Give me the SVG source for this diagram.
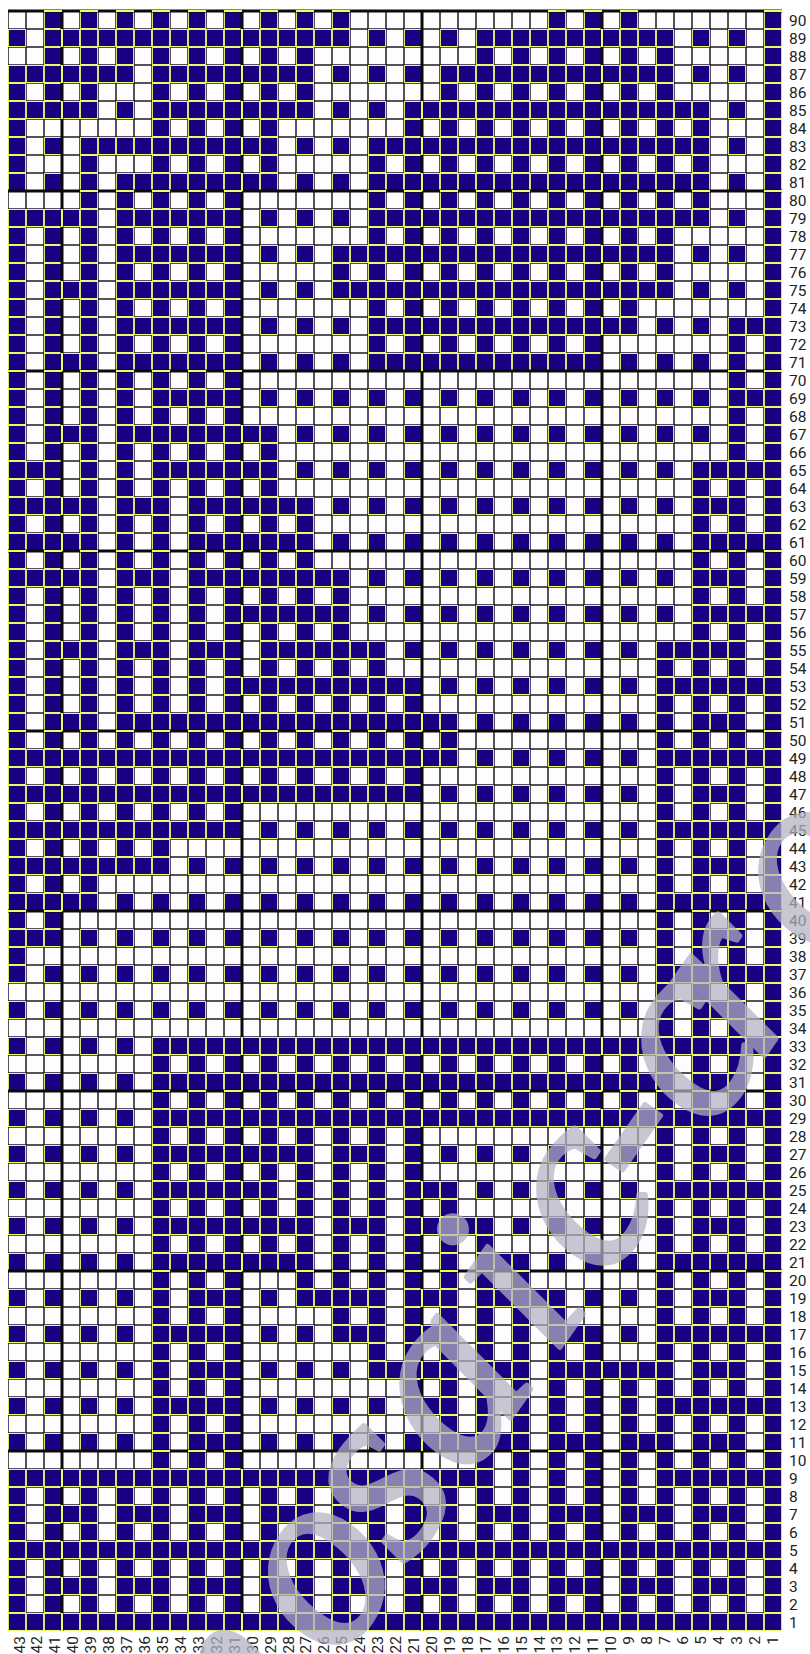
<svg xmlns="http://www.w3.org/2000/svg" width="810" height="1654" viewBox="0 0 810 1654">
<style>
.r{fill:none;stroke:url(#nav);stroke-width:18}
.t{fill:none;stroke:#0a0a0a;stroke-width:3}
.y{fill:none;stroke:#e6ff66;stroke-width:2}
.l{font-family:Roboto,"Liberation Sans",sans-serif;font-size:15.5px;fill:#222}
.b{font-family:Roboto,"Liberation Sans",sans-serif;font-size:15.5px;fill:#222;text-anchor:end}
.w{font-family:"Liberation Serif",serif;font-style:italic;font-size:255px;fill:rgb(178,178,195);stroke:rgb(178,178,195);stroke-width:5;stroke-linejoin:round;opacity:.72}
</style>
<defs>
<pattern id="wht" patternUnits="userSpaceOnUse" x="8" y="11" width="18" height="18">
<rect width="18" height="18" fill="#fefcff"/>
<path d="M0 0H18V18H0Z" fill="none" stroke="#1c1c1c" stroke-width="1.5"/>
</pattern>
<pattern id="nav" patternUnits="userSpaceOnUse" x="8" y="11" width="18" height="18">
<rect width="18" height="18" fill="#1a0082"/>
<path d="M0 0H18V18H0Z" fill="none" stroke="#e6ff66" stroke-width="1.8"/>
</pattern>
</defs>
<rect width="810" height="1654" fill="#fff"/>
<rect id="grid" x="8" y="11" width="774" height="1620" fill="url(#wht)"/>
<g id="cells">
<path class="r" pathLength="43" d="M8 20H782" stroke-dasharray="0 2  1 1 1 1 1 1 1 1  1 1 1 1 1 1 1 1  1 11  1 1 1 1  1 7  1"/>
<path class="r" pathLength="43" d="M8 38H782" stroke-dasharray="1 1  17 1  1 1 1 1 1 1  11 1  1 1 1 1  1"/>
<path class="r" pathLength="43" d="M8 56H782" stroke-dasharray="0 2  1 1 1 1 1 1 1 1  1 1 1 1 1 1  1 9  1 1 1 1 1 1 1 1 1 1  1 5  1"/>
<path class="r" pathLength="43" d="M8 74H782" stroke-dasharray="7 1  9 1  1 1 1 1 1 1  13 1  1 1 1 1  1"/>
<path class="r" pathLength="43" d="M8 92H782" stroke-dasharray="1 1 1 1  1 3  1 1 1 1 1 1 1 1  1 7  1 1 1 1 1 1 1 1 1 1 1 1  1 5  1"/>
<path class="r" pathLength="43" d="M8 110H782" stroke-dasharray="5 1  1 1  9 1  1 1 1 1  17 1  1 1 1 1"/>
<path class="r" pathLength="43" d="M8 128H782" stroke-dasharray="1 7  1 1 1 1 1 1  1 7  1 1 1 1 1 1 1 1  1 1 1 1 1 1 1 1  1 3  1"/>
<path class="r" pathLength="43" d="M8 146H782" stroke-dasharray="1 1 1 1  11 1  1 1 1 1  19 1  1 1 1 1"/>
<path class="r" pathLength="43" d="M8 164H782" stroke-dasharray="1 3  1 3  1 1 1 1 1 1  1 5  1 1 1 1 1 1 1 1 1 1  1 1 1 1 1 1 1 1  1 3  1"/>
<path class="r" pathLength="43" d="M8 182H782" stroke-dasharray="1 1 1 1 1 1  9 1  1 1 1 1  19 1  1 1 1 1"/>
<path class="r" pathLength="43" d="M8 200H782" stroke-dasharray="0 4  1 1 1 1 1 1 1 1  1 7  1 1 1 1 1 1 1 1 1 1  1 1 1 1 1 1 1 1  1 3  1"/>
<path class="r" pathLength="43" d="M8 218H782" stroke-dasharray="5 1  7 1  1 1 1 1 1 1  19 1  1 1 1 1"/>
<path class="r" pathLength="43" d="M8 236H782" stroke-dasharray="1 1 1 1 1 1  1 1 1 1 1 1  1 7  1 1 1 1 1 1 1 1  1 1 1 1 1 1 1 1  1 5  1"/>
<path class="r" pathLength="43" d="M8 254H782" stroke-dasharray="1 1 1 1 1 1  7 1  1 1 1 1  19 1  1 1 1 1  1"/>
<path class="r" pathLength="43" d="M8 272H782" stroke-dasharray="1 1 1 1 1 1  1 1 1 1 1 1  1 5  1 1 1 1 1 1 1 1 1 1  1 1 1 1 1 1 1 1  1 5  1"/>
<path class="r" pathLength="43" d="M8 290H782" stroke-dasharray="1 1  3 1  7 1  1 1 1 1  19 1  1 1 1 1  1"/>
<path class="r" pathLength="43" d="M8 308H782" stroke-dasharray="1 1 1 1 1 1  1 1 1 1 1 1  1 7  1 1 1 1 1 1 1 1  1 1 1 1 1 1  1 7  1"/>
<path class="r" pathLength="43" d="M8 326H782" stroke-dasharray="1 1 1 1 1 1  7 1  1 1 1 1 1 1  15 1  1 1 1 1  3"/>
<path class="r" pathLength="43" d="M8 344H782" stroke-dasharray="1 1 1 1 1 1  1 1 1 1 1 1  1 7  1 1 1 1 1 1  1 1 1 1 1 1  1 7  1 1 1"/>
<path class="r" pathLength="43" d="M8 362H782" stroke-dasharray="1 1  3 1  7 1  1 1 1 1 1 1  13 1  1 1 1 1 1 1 1 1  1"/>
<path class="r" pathLength="43" d="M8 380H782" stroke-dasharray="1 1 1 1 1 1  1 1 1 1 1 1  1 27  1 1 1"/>
<path class="r" pathLength="43" d="M8 398H782" stroke-dasharray="1 1 1 1 1 1 1 1  5 1  1 1 1 1 1 1 1 1 1 1  1 1 1 1 1 1 1 1 1 1  1 1 1 1 1 1  3"/>
<path class="r" pathLength="43" d="M8 416H782" stroke-dasharray="1 1 1 1 1 1  1 1 1 1 1 1  1 27  1 1 1"/>
<path class="r" pathLength="43" d="M8 434H782" stroke-dasharray="1 1  3 1  9 1  1 1 1 1 1 1 1 1 1 1  1 1 1 1 1 1 1 1 1 1  1 1 1 1 1 1  1"/>
<path class="r" pathLength="43" d="M8 452H782" stroke-dasharray="1 1 1 1 1 1 1 1  1 1 1 1 1 1  1 25  1 1 1"/>
<path class="r" pathLength="43" d="M8 470H782" stroke-dasharray="3 1  1 1 1 1  7 1  1 1 1 1 1 1 1 1 1 1  1 1 1 1 1 1 1 1 1 1  1 1  5"/>
<path class="r" pathLength="43" d="M8 488H782" stroke-dasharray="1 1 1 1 1 1 1 1  1 1 1 1 1 1  1 23  1 1 1 1  1"/>
<path class="r" pathLength="43" d="M8 506H782" stroke-dasharray="5 1  3 1  7 1  1 1 1 1 1 1 1 1 1 1  1 1 1 1 1 1 1 1 1 1  3 1  1"/>
<path class="r" pathLength="43" d="M8 524H782" stroke-dasharray="1 1 1 1 1 1 1 1  1 1 1 1 1 1 1 1  1 21  1 1 1 1  1"/>
<path class="r" pathLength="43" d="M8 542H782" stroke-dasharray="5 1  1 1 1 1  7 1  1 1 1 1 1 1 1 1 1 1  1 1 1 1 1 1 1 1 1 1  5"/>
<path class="r" pathLength="43" d="M8 560H782" stroke-dasharray="1 1 1 1 1 1 1 1  1 1 1 1 1 1 1 1  1 21  1 1 1 1  1"/>
<path class="r" pathLength="43" d="M8 578H782" stroke-dasharray="5 1  3 1  9 1  1 1 1 1 1 1 1 1 1 1  1 1 1 1 1 1 1 1  3 1  1"/>
<path class="r" pathLength="43" d="M8 596H782" stroke-dasharray="1 1 1 1 1 1 1 1 1 1  1 1 1 1 1 1 1 1  1 19  1 1 1 1  1"/>
<path class="r" pathLength="43" d="M8 614H782" stroke-dasharray="1 1 1 1 1 1  1 1 1 1 1 1  7 1  1 1 1 1 1 1 1 1 1 1  1 1 1 1 1 1 1 1  5"/>
<path class="r" pathLength="43" d="M8 632H782" stroke-dasharray="1 1 1 1 1 1 1 1 1 1  1 1 1 1 1 1 1 1  1 19  1 1 1 1  1"/>
<path class="r" pathLength="43" d="M8 650H782" stroke-dasharray="1 1  3 1  3 1  3 1  7 1  1 1 1 1 1 1 1 1 1 1  1 1 1 1  5 1  1"/>
<path class="r" pathLength="43" d="M8 668H782" stroke-dasharray="1 1 1 1 1 1 1 1 1 1  1 1 1 1 1 1 1 1 1 1  1 15  1 1 1 1 1 1  1"/>
<path class="r" pathLength="43" d="M8 686H782" stroke-dasharray="1 1 1 1 1 1  1 1 1 1 1 1  11 1  1 1 1 1 1 1  1 1 1 1 1 1  7"/>
<path class="r" pathLength="43" d="M8 704H782" stroke-dasharray="1 1 1 1 1 1 1 1 1 1  1 1 1 1 1 1 1 1 1 1  1 1  1 13  1 1 1 1 1 1  1"/>
<path class="r" pathLength="43" d="M8 722H782" stroke-dasharray="1 1  3 1  19 1  1 1 1 1 1 1  1 1 1 1 1 1  3 1  1"/>
<path class="r" pathLength="43" d="M8 740H782" stroke-dasharray="1 1 1 1 1 1 1 1 1 1  1 1 1 1 1 1 1 1 1 1  1 1 1 1  1 11  1 1 1 1 1 1  1"/>
<path class="r" pathLength="43" d="M8 758H782" stroke-dasharray="25 1  1 1 1 1 1 1 1 1 1 1  7"/>
<path class="r" pathLength="43" d="M8 776H782" stroke-dasharray="1 1 1 1 1 1 1 1 1 1  1 1 1 1 1 1 1 1 1 1  1 1  1 13  1 1 1 1 1 1  1"/>
<path class="r" pathLength="43" d="M8 794H782" stroke-dasharray="23 1  1 1 1 1 1 1 1 1 1 1  1 1 1 1  3 1  1"/>
<path class="r" pathLength="43" d="M8 812H782" stroke-dasharray="1 1 1 1 1 1  1 1 1 1 1 1  1 23  1 1 1 1 1 1  1"/>
<path class="r" pathLength="43" d="M8 830H782" stroke-dasharray="13 1  1 1 1 1 1 1 1 1 1 1  1 1 1 1 1 1 1 1 1 1  1 1  7"/>
<path class="r" pathLength="43" d="M8 848H782" stroke-dasharray="1 1 1 1 1 1 1 1  1 27  1 1 1 1 1 1  1"/>
<path class="r" pathLength="43" d="M8 866H782" stroke-dasharray="9 1  1 1 1 1 1 1 1 1 1 1  1 1 1 1 1 1 1 1 1 1  1 1 1 1 1 1 1 1  3 1  1"/>
<path class="r" pathLength="43" d="M8 884H782" stroke-dasharray="1 1 1 1  1 31  1 1 1 1 1 1  1"/>
<path class="r" pathLength="43" d="M8 902H782" stroke-dasharray="5 1  1 1 1 1 1 1 1 1 1 1  1 1 1 1 1 1 1 1 1 1  1 1 1 1 1 1 1 1 1 1  7"/>
<path class="r" pathLength="43" d="M8 920H782" stroke-dasharray="1 1  1 33  1 1 1 1 1 1  1"/>
<path class="r" pathLength="43" d="M8 938H782" stroke-dasharray="3 1  1 1 1 1 1 1 1 1 1 1  1 1 1 1 1 1 1 1 1 1  1 1 1 1 1 1 1 1 1 1  1 1 1 1  3 1  1"/>
<path class="r" pathLength="43" d="M8 956H782" stroke-dasharray="1 35  1 1 1 1 1 1  1"/>
<path class="r" pathLength="43" d="M8 974H782" stroke-dasharray="1 1 1 1 1 1 1 1 1 1  1 1 1 1 1 1 1 1 1 1  1 1 1 1 1 1 1 1 1 1  1 1 1 1 1 1  7"/>
<path class="r" pathLength="43" d="M8 992H782" stroke-dasharray="0 36  1 1 1 1 1 1  1"/>
<path class="r" pathLength="43" d="M8 1010H782" stroke-dasharray="1 1 1 1 1 1 1 1 1 1  1 1 1 1 1 1 1 1 1 1  1 1 1 1 1 1 1 1 1 1  1 1 1 1 1 1 1 1  3 1  1"/>
<path class="r" pathLength="43" d="M8 1028H782" stroke-dasharray="0 36  1 1 1 1 1 1  1"/>
<path class="r" pathLength="43" d="M8 1046H782" stroke-dasharray="1 1 1 1 1 1 1 1  35"/>
<path class="r" pathLength="43" d="M8 1064H782" stroke-dasharray="0 8  1 1 1 1 1 1 1 1 1 1  1 1 1 1 1 1 1 1 1 1  1 1 1 1 1 1 1 1 1 1  1 1 1 1  1"/>
<path class="r" pathLength="43" d="M8 1082H782" stroke-dasharray="1 1 1 1 1 1 1 1  29 1  3 1  1"/>
<path class="r" pathLength="43" d="M8 1100H782" stroke-dasharray="0 8  1 1 1 1 1 1 1 1 1 1  1 1 1 1 1 1 1 1 1 1  1 1 1 1 1 1 1 1 1 1  1 1 1 1  1"/>
<path class="r" pathLength="43" d="M8 1118H782" stroke-dasharray="1 1 1 1 1 1 1 1  35"/>
<path class="r" pathLength="43" d="M8 1136H782" stroke-dasharray="0 8  1 1 1 1 1 1 1 1 1 1  1 1 1 1  1 13  1 1 1 1 1 1  1"/>
<path class="r" pathLength="43" d="M8 1154H782" stroke-dasharray="1 1 1 1 1 1 1 1  9 1  3 1  1 1 1 1 1 1 1 1  1 1 1 1 1 1 1 1  3 1  1"/>
<path class="r" pathLength="43" d="M8 1172H782" stroke-dasharray="0 8  1 1 1 1 1 1 1 1 1 1  1 1 1 1  1 13  1 1 1 1 1 1  1"/>
<path class="r" pathLength="43" d="M8 1190H782" stroke-dasharray="1 1 1 1 1 1 1 1  7 1  1 1 1 1 1 1  3 1  1 1 1 1 1 1 1 1 1 1  7"/>
<path class="r" pathLength="43" d="M8 1208H782" stroke-dasharray="0 8  1 1 1 1 1 1 1 1 1 1  1 1 1 1 1 1  1 11  1 1 1 1 1 1  1"/>
<path class="r" pathLength="43" d="M8 1226H782" stroke-dasharray="1 1 1 1 1 1 1 1  9 1  3 1  5 1  1 1 1 1 1 1 1 1 1 1  3 1  1"/>
<path class="r" pathLength="43" d="M8 1244H782" stroke-dasharray="0 8  1 1 1 1 1 1 1 1 1 1  1 1 1 1 1 1 1 1  1 9  1 1 1 1 1 1  1"/>
<path class="r" pathLength="43" d="M8 1262H782" stroke-dasharray="1 1 1 1 1 1 1 1  9 1  1 1 1 1 1 1 1 1  3 1  1 1 1 1 1 1  7"/>
<path class="r" pathLength="43" d="M8 1280H782" stroke-dasharray="0 8  1 1 1 1  1 3  1 1 1 1 1 1 1 1 1 1 1 1  1 7  1 1 1 1 1 1  1"/>
<path class="r" pathLength="43" d="M8 1298H782" stroke-dasharray="1 1 1 1 1 1 1 1 1 1  3 1  1 1  5 1  3 1  5 1  1 1  1 1 1 1  3 1  1"/>
<path class="r" pathLength="43" d="M8 1316H782" stroke-dasharray="0 8  1 1 1 1  1 5  1 1 1 1 1 1 1 1 1 1 1 1  1 5  1 1 1 1 1 1  1"/>
<path class="r" pathLength="43" d="M8 1334H782" stroke-dasharray="1 1 1 1 1 1 1 1  5 1  1 1 1 1  3 1  3 1  1 1 1 1  3 1  1 1  7"/>
<path class="r" pathLength="43" d="M8 1352H782" stroke-dasharray="0 8  1 1 1 1  1 7  1 1 1 1 1 1 1 1 1 1 1 1  1 3  1 1 1 1 1 1  1"/>
<path class="r" pathLength="43" d="M8 1370H782" stroke-dasharray="1 1 1 1 1 1 1 1 1 1  3 1  1 1 1 1 1 1  5 1  3 1  7 1  3 1  1"/>
<path class="r" pathLength="43" d="M8 1388H782" stroke-dasharray="0 8  1 1 1 1  1 9  1 1 1 1 1 1 1 1 1 1  1 1 1 1 1 1 1 1 1 1  1"/>
<path class="r" pathLength="43" d="M8 1406H782" stroke-dasharray="1 1 1 1 1 1 1 1  5 1  1 1 1 1 1 1 1 1  3 1  1 1 1 1 1 1 1 1 1 1  7"/>
<path class="r" pathLength="43" d="M8 1424H782" stroke-dasharray="0 8  1 1 1 1  1 11  1 1 1 1 1 1 1 1 1 1  1 1 1 1 1 1 1 1  1"/>
<path class="r" pathLength="43" d="M8 1442H782" stroke-dasharray="1 1 1 1 1 1 1 1 1 1  3 1  1 1 1 1 1 1 1 1  7 1  3 1  3 1  3 1  1"/>
<path class="r" pathLength="43" d="M8 1460H782" stroke-dasharray="0 8  1 1 1 1  1 13  1 1 1 1 1 1 1 1  1 1 1 1 1 1 1 1  1"/>
<path class="r" pathLength="43" d="M8 1478H782" stroke-dasharray="27 1  1 1 1 1 1 1 1 1  7"/>
<path class="r" pathLength="43" d="M8 1496H782" stroke-dasharray="1 1"/>
<path class="r" pathLength="43" d="M8 1514H782" stroke-dasharray="1 1  3 1  3 1  3 1  3 1  3 1  3 1  3 1  3 1  3 1  3 1  1"/>
<path class="r" pathLength="43" d="M8 1532H782" stroke-dasharray="1 1"/>
<path class="r" d="M8 1550H782"/>
<path class="r" pathLength="43" d="M8 1568H782" stroke-dasharray="1 1"/>
<path class="r" pathLength="43" d="M8 1586H782" stroke-dasharray="1 1  3 1  3 1  3 1  3 1  3 1  3 1  3 1  3 1  3 1  3 1  1"/>
<path class="r" pathLength="43" d="M8 1604H782" stroke-dasharray="1 1"/>
<path class="r" d="M8 1622H782"/>
</g>
<g id="major-lines">
<path class="t" d="M62 11V1631M242 11V1631M422 11V1631M602 11V1631M8 11H782M8 191H782M8 371H782M8 551H782M8 731H782M8 911H782M8 1091H782M8 1271H782M8 1451H782"/>
<path class="y" pathLength="90" d="M62 11V1631" stroke-dasharray="0 1  1 1  1 1  1 5  1 3  1 3  1 3  1 3  1 1  1 1  1 3  1 3  1 1  1 1  1 1  1 1  1 1  1 31  1 1  1 1  1 1  1 1  1"/>
<path class="y" pathLength="90" d="M242 11V1631" stroke-dasharray="0 1  1 1  1 1  1 1  1 1  1 13  1 1  1 1  1 1  1 1  1 1  1 3  1 1  1 1  1 1  1 13  1 1  1 1  1 1  1 1  1 1  1 1  1 11  1 3  1 3  1"/>
<path class="y" pathLength="90" d="M422 11V1631" stroke-dasharray="0 5  1 1  1 1  1 1  1 1  1 1  1 1  1 1  1 19  1 1  1 15  1 1  1 1  1 3  1 1  1 3  1 1  1 1  1 1  1 1  1 1  1 1  1 1  1 1  1 1  1"/>
<path class="y" pathLength="90" d="M602 11V1631" stroke-dasharray="0 1  1 1  1 1  1 1  1 1  1 1  1 1  1 1  1 1  1 39  1 1  1 1  1 13  1 9  1 3  1"/>
<path class="y" pathLength="43" d="M8 11H782" stroke-dasharray="0 2  1 1 1 1 1 1 1 1  1 1 1 1 1 1 1 1  1 11  1 1 1 1  1 7  1"/>
<path class="y" pathLength="43" d="M8 191H782" stroke-dasharray="0 4  1 1 1 1 1 1 1 1  1 7  1 1 1 1 1 1 1 1 1 1  1 1 1 1 1 1 1 1  1 3  1"/>
<path class="y" pathLength="43" d="M8 371H782" stroke-dasharray="1 1 1 1 1 1  1 1 1 1 1 1  1 27  1 1 1"/>
<path class="y" pathLength="43" d="M8 551H782" stroke-dasharray="1 1 1 1 1 1 1 1  1 1 1 1 1 1 1 1  1 21  1 1 1 1  1"/>
<path class="y" pathLength="43" d="M8 731H782" stroke-dasharray="1 1 1 1 1 1 1 1 1 1  1 1 1 1 1 1 1 1 1 1  1 1 1 1  1 11  1 1 1 1 1 1  1"/>
<path class="y" pathLength="43" d="M8 911H782" stroke-dasharray="1 1  1 33  1 1 1 1 1 1  1"/>
<path class="y" pathLength="43" d="M8 1091H782" stroke-dasharray="0 8  1 1 1 1 1 1 1 1 1 1  1 1 1 1 1 1 1 1 1 1  1 1 1 1 1 1 1 1 1 1  1 1 1 1  1"/>
<path class="y" pathLength="43" d="M8 1271H782" stroke-dasharray="0 8  1 1 1 1  1 3  1 1 1 1 1 1 1 1 1 1 1 1  1 7  1 1 1 1 1 1  1"/>
<path class="y" pathLength="43" d="M8 1451H782" stroke-dasharray="0 8  1 1 1 1  1 13  1 1 1 1 1 1 1 1  1 1 1 1 1 1 1 1  1"/>
</g>
<g id="row-labels">
<text class="l" x="789" y="25.7">90</text><text class="l" x="789" y="43.7">89</text><text class="l" x="789" y="61.7">88</text><text class="l" x="789" y="79.7">87</text><text class="l" x="789" y="97.7">86</text><text class="l" x="789" y="115.7">85</text><text class="l" x="789" y="133.7">84</text><text class="l" x="789" y="151.7">83</text><text class="l" x="789" y="169.7">82</text><text class="l" x="789" y="187.7">81</text>
<text class="l" x="789" y="205.7">80</text><text class="l" x="789" y="223.7">79</text><text class="l" x="789" y="241.7">78</text><text class="l" x="789" y="259.7">77</text><text class="l" x="789" y="277.7">76</text><text class="l" x="789" y="295.7">75</text><text class="l" x="789" y="313.7">74</text><text class="l" x="789" y="331.7">73</text><text class="l" x="789" y="349.7">72</text><text class="l" x="789" y="367.7">71</text>
<text class="l" x="789" y="385.7">70</text><text class="l" x="789" y="403.7">69</text><text class="l" x="789" y="421.7">68</text><text class="l" x="789" y="439.7">67</text><text class="l" x="789" y="457.7">66</text><text class="l" x="789" y="475.7">65</text><text class="l" x="789" y="493.7">64</text><text class="l" x="789" y="511.7">63</text><text class="l" x="789" y="529.7">62</text><text class="l" x="789" y="547.7">61</text>
<text class="l" x="789" y="565.7">60</text><text class="l" x="789" y="583.7">59</text><text class="l" x="789" y="601.7">58</text><text class="l" x="789" y="619.7">57</text><text class="l" x="789" y="637.7">56</text><text class="l" x="789" y="655.7">55</text><text class="l" x="789" y="673.7">54</text><text class="l" x="789" y="691.7">53</text><text class="l" x="789" y="709.7">52</text><text class="l" x="789" y="727.7">51</text>
<text class="l" x="789" y="745.7">50</text><text class="l" x="789" y="763.7">49</text><text class="l" x="789" y="781.7">48</text><text class="l" x="789" y="799.7">47</text><text class="l" x="789" y="817.7">46</text><text class="l" x="789" y="835.7">45</text><text class="l" x="789" y="853.7">44</text><text class="l" x="789" y="871.7">43</text><text class="l" x="789" y="889.7">42</text><text class="l" x="789" y="907.7">41</text>
<text class="l" x="789" y="925.7">40</text><text class="l" x="789" y="943.7">39</text><text class="l" x="789" y="961.7">38</text><text class="l" x="789" y="979.7">37</text><text class="l" x="789" y="997.7">36</text><text class="l" x="789" y="1015.7">35</text><text class="l" x="789" y="1033.7">34</text><text class="l" x="789" y="1051.7">33</text><text class="l" x="789" y="1069.7">32</text><text class="l" x="789" y="1087.7">31</text>
<text class="l" x="789" y="1105.7">30</text><text class="l" x="789" y="1123.7">29</text><text class="l" x="789" y="1141.7">28</text><text class="l" x="789" y="1159.7">27</text><text class="l" x="789" y="1177.7">26</text><text class="l" x="789" y="1195.7">25</text><text class="l" x="789" y="1213.7">24</text><text class="l" x="789" y="1231.7">23</text><text class="l" x="789" y="1249.7">22</text><text class="l" x="789" y="1267.7">21</text>
<text class="l" x="789" y="1285.7">20</text><text class="l" x="789" y="1303.7">19</text><text class="l" x="789" y="1321.7">18</text><text class="l" x="789" y="1339.7">17</text><text class="l" x="789" y="1357.7">16</text><text class="l" x="789" y="1375.7">15</text><text class="l" x="789" y="1393.7">14</text><text class="l" x="789" y="1411.7">13</text><text class="l" x="789" y="1429.7">12</text><text class="l" x="789" y="1447.7">11</text>
<text class="l" x="789" y="1465.7">10</text><text class="l" x="789" y="1483.7">9</text><text class="l" x="789" y="1501.7">8</text><text class="l" x="789" y="1519.7">7</text><text class="l" x="789" y="1537.7">6</text><text class="l" x="789" y="1555.7">5</text><text class="l" x="789" y="1573.7">4</text><text class="l" x="789" y="1591.7">3</text><text class="l" x="789" y="1609.7">2</text><text class="l" x="789" y="1627.7">1</text>
</g>
<g id="col-labels">
<text class="b" transform="translate(24.5 1636) rotate(-90)">43</text><text class="b" transform="translate(42.4 1636) rotate(-90)">42</text><text class="b" transform="translate(60.4 1636) rotate(-90)">41</text><text class="b" transform="translate(78.3 1636) rotate(-90)">40</text><text class="b" transform="translate(96.2 1636) rotate(-90)">39</text><text class="b" transform="translate(114.2 1636) rotate(-90)">38</text><text class="b" transform="translate(132.1 1636) rotate(-90)">37</text><text class="b" transform="translate(150 1636) rotate(-90)">36</text><text class="b" transform="translate(167.9 1636) rotate(-90)">35</text><text class="b" transform="translate(185.9 1636) rotate(-90)">34</text>
<text class="b" transform="translate(203.8 1636) rotate(-90)">33</text><text class="b" transform="translate(221.7 1636) rotate(-90)">32</text><text class="b" transform="translate(239.7 1636) rotate(-90)">31</text><text class="b" transform="translate(257.6 1636) rotate(-90)">30</text><text class="b" transform="translate(275.5 1636) rotate(-90)">29</text><text class="b" transform="translate(293.5 1636) rotate(-90)">28</text><text class="b" transform="translate(311.4 1636) rotate(-90)">27</text><text class="b" transform="translate(329.3 1636) rotate(-90)">26</text><text class="b" transform="translate(347.2 1636) rotate(-90)">25</text><text class="b" transform="translate(365.2 1636) rotate(-90)">24</text>
<text class="b" transform="translate(383.1 1636) rotate(-90)">23</text><text class="b" transform="translate(401 1636) rotate(-90)">22</text><text class="b" transform="translate(419 1636) rotate(-90)">21</text><text class="b" transform="translate(436.9 1636) rotate(-90)">20</text><text class="b" transform="translate(454.8 1636) rotate(-90)">19</text><text class="b" transform="translate(472.8 1636) rotate(-90)">18</text><text class="b" transform="translate(490.7 1636) rotate(-90)">17</text><text class="b" transform="translate(508.6 1636) rotate(-90)">16</text><text class="b" transform="translate(526.5 1636) rotate(-90)">15</text><text class="b" transform="translate(544.5 1636) rotate(-90)">14</text>
<text class="b" transform="translate(562.4 1636) rotate(-90)">13</text><text class="b" transform="translate(580.3 1636) rotate(-90)">12</text><text class="b" transform="translate(598.3 1636) rotate(-90)">11</text><text class="b" transform="translate(616.2 1636) rotate(-90)">10</text><text class="b" transform="translate(634.1 1636) rotate(-90)">9</text><text class="b" transform="translate(652.1 1636) rotate(-90)">8</text><text class="b" transform="translate(670 1636) rotate(-90)">7</text><text class="b" transform="translate(687.9 1636) rotate(-90)">6</text><text class="b" transform="translate(705.8 1636) rotate(-90)">5</text><text class="b" transform="translate(723.8 1636) rotate(-90)">4</text>
<text class="b" transform="translate(741.7 1636) rotate(-90)">3</text><text class="b" transform="translate(759.6 1636) rotate(-90)">2</text><text class="b" transform="translate(777.6 1636) rotate(-90)">1</text>
</g>
<text id="watermark" class="w" transform="translate(185.9 1881.6) rotate(-55)" x="60 265 384 490 638 730 824 913 998 1120">mosaic-cro</text>
</svg>
